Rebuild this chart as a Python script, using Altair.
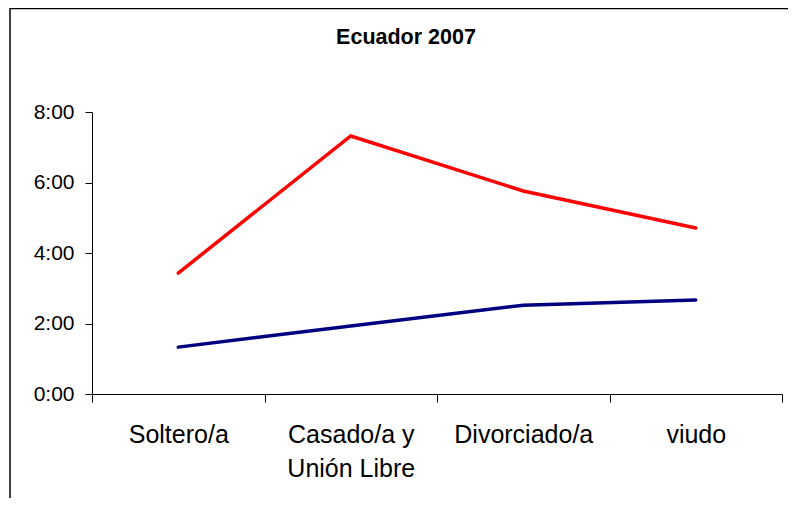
import altair as alt
import pandas as pd

# --- data ---
categories = ["Soltero/a", "Casado/a y Unión Libre", "Divorciado/a", "viudo"]
mujeres = [3.43, 7.32, 5.76, 4.71]   # hours (red line)
hombres = [1.33, 1.93, 2.52, 2.67]   # hours (navy line)
series = ["Mujeres", "Hombres"]
colors = ["#FF0000", "#000080"]
y_ticks = [0, 2, 4, 6, 8]
title_text = "Ecuador 2007"

rows = []
for name, vals in zip(series, [mujeres, hombres]):
    for i, (c, v) in enumerate(zip(categories, vals)):
        rows.append({"estado": c, "horas": v, "serie": name, "idx": i})
df = pd.DataFrame(rows)

FONT = "Liberation Sans"

x_axis = alt.Axis(
    title=None,
    labelAngle=0,
    labelFont=FONT,
    labelFontSize=25,
    labelColor="black",
    labelPadding=20,
    labelLineHeight=34,
    labelLimit=0,
    labelExpr="datum.value == 'Casado/a y Unión Libre' ? ['Casado/a y', 'Unión Libre'] : datum.label",
    tickBand="extent",
    tickSize=8,
    tickColor="black",
    domainColor="black",
    grid=False,
)

y_axis = alt.Axis(
    title=None,
    values=y_ticks,
    labelExpr="datum.value + ':00'",
    labelFont=FONT,
    labelFontSize=21,
    labelColor="black",
    labelPadding=11,
    tickSize=7,
    tickColor="black",
    domainColor="black",
    grid=False,
)

lines = alt.Chart(df).mark_line(strokeWidth=3.5, strokeCap="round").encode(
    x=alt.X("estado:N", sort=categories, bandPosition=0.5,
            scale=alt.Scale(type="band", paddingInner=0, paddingOuter=0),
            axis=x_axis),
    y=alt.Y("horas:Q", scale=alt.Scale(domain=[0, 8], nice=False), axis=y_axis),
    color=alt.Color("serie:N", scale=alt.Scale(domain=series, range=colors), legend=None),
    order=alt.Order("idx:Q"),
)

one = alt.Data(values=[{"t": title_text}])

frame_left = alt.Chart(one).mark_rule(color="black", strokeWidth=1.5).encode(
    x=alt.value(-82), y=alt.value(-104), y2=alt.value(400)
)
frame_top = alt.Chart(one).mark_rule(color="black", strokeWidth=1.5).encode(
    x=alt.value(-82), x2=alt.value(720), y=alt.value(-103.5)
)

title = alt.Chart(one).mark_text(
    font=FONT, fontSize=21.5, fontWeight="bold", align="center",
    baseline="alphabetic", color="black"
).encode(text="t:N", x=alt.value(314), y=alt.value(-68))

chart = alt.layer(frame_left, frame_top, title, lines).properties(
    width=690,
    height=282,
    autosize=alt.AutoSizeParams(type="none"),
    padding={"left": 84, "top": 104, "right": 6, "bottom": 104},
).configure_view(stroke=None)

chart.save("out.html", embed_options={"renderer": "svg", "actions": False})
